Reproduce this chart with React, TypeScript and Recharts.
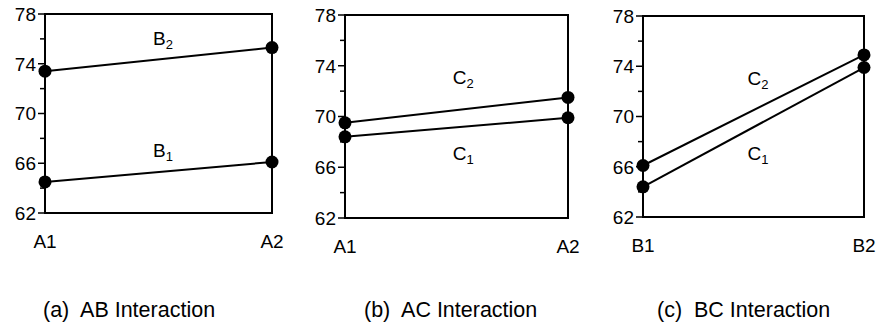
import React from "react";
import { LineChart, Line, XAxis, YAxis, ReferenceArea, ReferenceDot } from "recharts";

const FONT = '"Liberation Sans", Arial, Helvetica, sans-serif';

// factor levels on the x axis of each panel
const aLevels = ["A1", "A2"];
const bLevels = ["B1", "B2"];

// mean responses, one pair per level
const abB1 = [64.5, 66.1];
const abB2 = [73.4, 75.3];
const acC1 = [68.4, 69.9];
const acC2 = [69.5, 71.5];
const bcC1 = [64.4, 73.9];
const bcC2 = [66.1, 74.9];

const yTicks = [62, 64, 66, 68, 70, 72, 74, 76, 78];
const yMajor = [62, 66, 70, 74, 78];

const captions = ["(a)  AB Interaction", "(b)  AC Interaction", "(c)  BC Interaction"];

const YTick = ({ x, y, payload }: any) => {
  const major = yMajor.includes(payload.value);
  return (
    <g>
      <line x1={x - (major ? 7 : 5)} x2={x} y1={y} y2={y} stroke="#000" strokeWidth={1.5} />
      {major && (
        <text x={x - 9} y={y} dy="0.36em" textAnchor="end" fontFamily={FONT} fontSize={19} fill="#000">
          {payload.value}
        </text>
      )}
    </g>
  );
};

const SeriesTag = ({ cx, cy, name, sub }: any) => (
  <text x={cx} y={cy} textAnchor="middle" fontFamily={FONT} fontSize={19} fill="#000">
    <tspan>{name}</tspan>
    <tspan fontSize={13} dy={4}>{sub}</tspan>
  </text>
);

interface PanelProps {
  plotLeft: number;
  plotRight: number;
  plotTop: number;
  plotBottom: number;
  levels: string[];
  lo: number[];
  hi: number[];
  tag: string;
  loTagY: number;
  hiTagY: number;
  tagX: number;
}

const AXIS_W = 45;
const X_AXIS_H = 40;
const CHART_H = 260;

function Panel({ plotLeft, plotRight, plotTop, plotBottom, levels, lo, hi, tag, loTagY, hiTagY, tagX }: PanelProps) {
  const data = levels.map((_, i) => ({ pos: i, lo: lo[i], hi: hi[i] }));
  const width = plotRight - plotLeft + AXIS_W + 20;
  return (
    <div style={{ position: "absolute", left: plotLeft - AXIS_W, top: 0 }}>
      <LineChart
        width={width}
        height={CHART_H}
        data={data}
        margin={{ top: plotTop, right: 20, left: 0, bottom: CHART_H - plotBottom - X_AXIS_H }}
      >
        <XAxis
          type="number"
          dataKey="pos"
          domain={[0, 1]}
          ticks={[0, 1]}
          tickFormatter={(v) => levels[v]}
          axisLine={false}
          tickLine={false}
          tickSize={0}
          tickMargin={22}
          height={X_AXIS_H}
          tick={{ fontFamily: FONT, fontSize: 19, fill: "#000" }}
        />
        <YAxis
          domain={[62, 78]}
          ticks={yTicks}
          interval={0}
          width={AXIS_W}
          axisLine={false}
          tickLine={false}
          tickSize={0}
          tickMargin={0}
          tick={<YTick />}
        />
        <ReferenceArea x1={0} x2={1} y1={62} y2={78} fill="none" fillOpacity={0} stroke="#000" strokeWidth={2} />
        <Line
          dataKey="lo"
          stroke="#000"
          strokeWidth={2}
          dot={{ r: 6.5, fill: "#000", stroke: "#000", strokeWidth: 0 }}
          activeDot={false}
          isAnimationActive={false}
        />
        <Line
          dataKey="hi"
          stroke="#000"
          strokeWidth={2}
          dot={{ r: 6.5, fill: "#000", stroke: "#000", strokeWidth: 0 }}
          activeDot={false}
          isAnimationActive={false}
        />
        <ReferenceDot x={tagX} y={hiTagY} r={0} shape={(p: any) => <SeriesTag cx={p.cx} cy={p.cy} name={tag} sub="2" />} />
        <ReferenceDot x={tagX} y={loTagY} r={0} shape={(p: any) => <SeriesTag cx={p.cx} cy={p.cy} name={tag} sub="1" />} />
      </LineChart>
    </div>
  );
}

const captionX = [43, 364, 657];

export default function App() {
  return (
    <div style={{ position: "absolute", left: 0, top: 0, width: 876, height: 326, background: "#fff" }}>
      <Panel plotLeft={45} plotRight={272} plotTop={14} plotBottom={213} levels={aLevels} lo={abB1} hi={abB2} tag="B" hiTagY={75.5} loTagY={66.5} tagX={0.52} />
      <Panel plotLeft={345} plotRight={568} plotTop={15} plotBottom={218} levels={aLevels} lo={acC1} hi={acC2} tag="C" hiTagY={72.6} loTagY={66.6} tagX={0.53} />
      <Panel plotLeft={643} plotRight={864} plotTop={16} plotBottom={217} levels={bLevels} lo={bcC1} hi={bcC2} tag="C" hiTagY={72.5} loTagY={66.5} tagX={0.52} />
      <svg width={876} height={326} style={{ position: "absolute", left: 0, top: 0, pointerEvents: "none" }}>
        {captions.map((c, i) => (
          <text key={c} x={captionX[i]} y={317} fontFamily={FONT} fontSize={21.5} fill="#000" style={{ whiteSpace: "pre" }}>
            {c}
          </text>
        ))}
      </svg>
    </div>
  );
}
